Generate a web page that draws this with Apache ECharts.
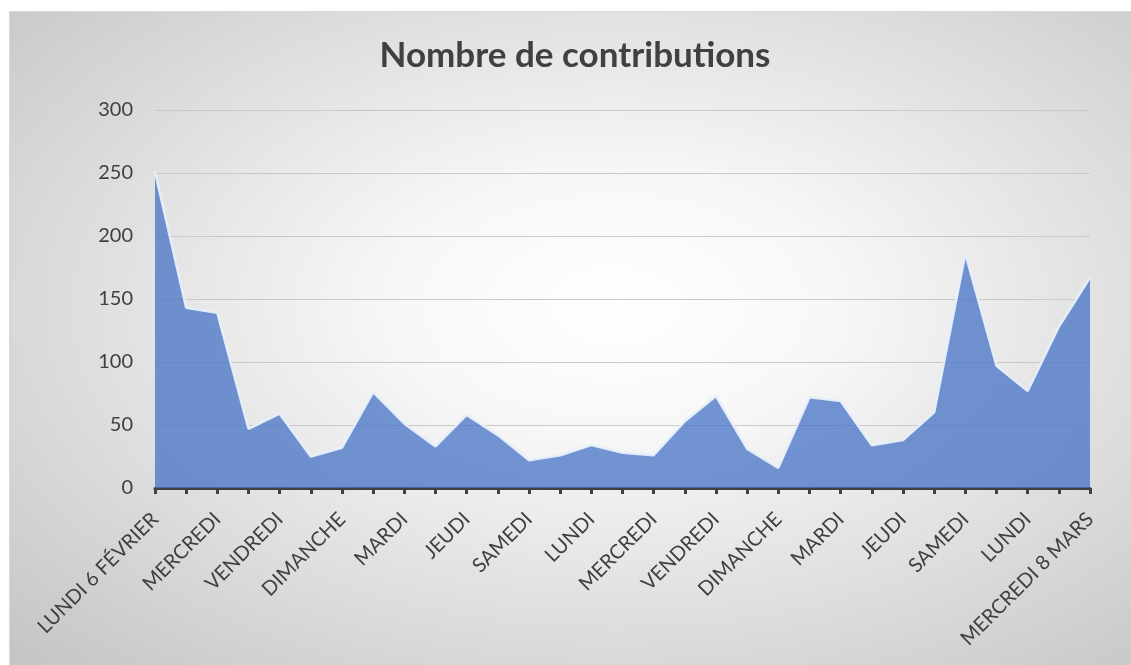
<!DOCTYPE html>
<html>
<head>
<meta charset="utf-8">
<script src="https://cdn.jsdelivr.net/npm/echarts@6/dist/echarts.min.js"></script>
<style>
  html, body { margin: 0; padding: 0; background: #fff; }
  #chart {
    position: absolute; left: 9px; top: 11px;
    width: 1122px; height: 654px; box-sizing: border-box;
    border-top: 1px solid #d9d9d9; border-left: 1px solid #d9d9d9;
    background: radial-gradient(ellipse farthest-corner at 54% 45%, #ffffff 0%, #f7f7f7 26%, #c4c4c4 100%);
  }
</style>
</head>
<body>
<div id="chart"></div>
<script>
// days from lundi 6 février to mercredi 8 mars
const days = [
  'LUNDI 6 FÉVRIER', 'MARDI', 'MERCREDI', 'JEUDI', 'VENDREDI', 'SAMEDI', 'DIMANCHE',
  'LUNDI', 'MARDI', 'MERCREDI', 'JEUDI', 'VENDREDI', 'SAMEDI', 'DIMANCHE',
  'LUNDI', 'MARDI', 'MERCREDI', 'JEUDI', 'VENDREDI', 'SAMEDI', 'DIMANCHE',
  'LUNDI', 'MARDI', 'MERCREDI', 'JEUDI', 'VENDREDI', 'SAMEDI', 'DIMANCHE',
  'LUNDI', 'MARDI', 'MERCREDI 8 MARS'
];
const contributions = [
  251, 143, 139, 47, 59, 25, 32, 76, 51, 33, 58, 42, 22, 26, 34, 28,
  26, 53, 73, 31, 16, 72, 69, 34, 38, 60, 186, 97, 77, 128, 167
];
const yTicks = { min: 0, max: 300, step: 50 };

const chart = echarts.init(document.getElementById('chart'));
const font = 'Lato, "Open Sans", sans-serif';

const option = {
  backgroundColor: 'transparent',
  title: {
    text: 'Nombre de contributions',
    left: 560,
    top: 21,
    textAlign: 'center',
    textStyle: { fontFamily: font, fontSize: 35, fontWeight: 'bold', color: '#404040' }
  },
  grid: { left: 145, right: 41, top: 98, bottom: 177 },
  xAxis: {
    type: 'category',
    data: days,
    boundaryGap: false,
    axisLine: { lineStyle: { color: '#404040', width: 3 } },
    axisTick: { show: true, interval: 0, length: 6, lineStyle: { color: '#404040', width: 3 } },
    axisLabel: {
      interval: 1,
      rotate: 45,
      margin: 28,
      fontFamily: font,
      fontSize: 20,
      color: '#404040'
    },
    splitLine: { show: false }
  },
  yAxis: {
    type: 'value',
    min: yTicks.min,
    max: yTicks.max,
    interval: yTicks.step,
    axisLine: { show: false },
    axisTick: { show: false },
    axisLabel: { margin: 22, fontFamily: font, fontSize: 20, color: '#404040' },
    splitLine: { lineStyle: { color: '#c9c9c9', width: 1 } }
  },
  series: [
    {
      name: 'Nombre de contributions',
      type: 'line',
      data: contributions,
      symbol: 'none',
      lineStyle: { color: 'rgba(232,239,252,0.95)', width: 2.5 },
      areaStyle: { color: '#4472C4', opacity: 0.75 }
    }
  ]
};
chart.setOption(option);
</script>
</body>
</html>
